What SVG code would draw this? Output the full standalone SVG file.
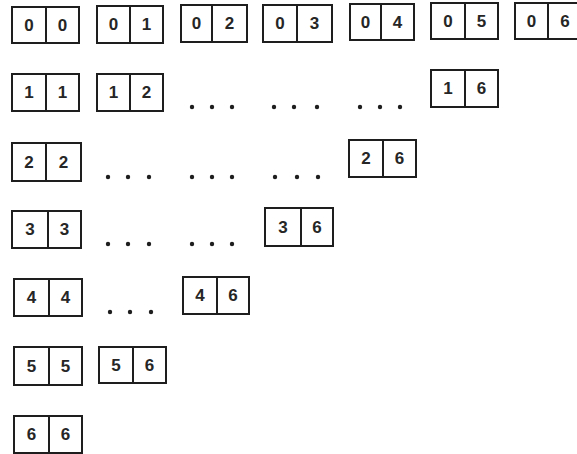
<svg xmlns="http://www.w3.org/2000/svg" width="577" height="454" viewBox="0 0 577 454">
<style>
.b{fill:none;stroke:#1e1e1e;stroke-width:2}
.t{font-family:"Liberation Sans",Arial,sans-serif;font-size:17px;font-weight:bold;fill:#262626;text-anchor:middle}
.d{fill:#1e1e1e}
</style>
<rect width="577" height="454" fill="#fff"/>
<g id="n00"><rect class="b" x="12" y="7" width="67" height="36"/><line class="b" x1="46" y1="7" x2="46" y2="43"/><text class="t" x="29" y="31">0</text><text class="t" x="62.5" y="31">0</text></g>
<g id="n01"><rect class="b" x="97" y="6" width="66" height="37"/><line class="b" x1="130" y1="6" x2="130" y2="43"/><text class="t" x="113.5" y="30">0</text><text class="t" x="146.5" y="30">1</text></g>
<g id="n02"><rect class="b" x="181" y="5" width="66" height="37"/><line class="b" x1="212" y1="5" x2="212" y2="42"/><text class="t" x="196.5" y="29">0</text><text class="t" x="229.5" y="29">2</text></g>
<g id="n03"><rect class="b" x="263" y="5" width="69" height="37"/><line class="b" x1="297" y1="5" x2="297" y2="42"/><text class="t" x="280" y="29">0</text><text class="t" x="314.5" y="29">3</text></g>
<g id="n04"><rect class="b" x="350" y="4" width="64" height="36"/><line class="b" x1="381" y1="4" x2="381" y2="40"/><text class="t" x="365.5" y="28">0</text><text class="t" x="397.5" y="28">4</text></g>
<g id="n05"><rect class="b" x="431" y="3" width="67" height="36"/><line class="b" x1="465" y1="3" x2="465" y2="39"/><text class="t" x="448" y="27">0</text><text class="t" x="481.5" y="27">5</text></g>
<g id="n06"><rect class="b" x="515" y="3" width="67" height="36"/><line class="b" x1="548" y1="3" x2="548" y2="39"/><text class="t" x="531.5" y="27">0</text><text class="t" x="565" y="27">6</text></g>
<g id="n11"><rect class="b" x="12" y="74" width="67" height="37"/><line class="b" x1="46" y1="74" x2="46" y2="111"/><text class="t" x="29" y="98">1</text><text class="t" x="62.5" y="98">1</text></g>
<g id="n12"><rect class="b" x="97" y="74" width="66" height="37"/><line class="b" x1="130" y1="74" x2="130" y2="111"/><text class="t" x="113.5" y="98">1</text><text class="t" x="146.5" y="98">2</text></g>
<g id="n16"><rect class="b" x="431" y="70" width="67" height="37"/><line class="b" x1="465" y1="70" x2="465" y2="107"/><text class="t" x="448" y="94">1</text><text class="t" x="481.5" y="94">6</text></g>
<g id="n22"><rect class="b" x="12" y="143" width="69" height="38"/><line class="b" x1="46" y1="143" x2="46" y2="181"/><text class="t" x="29" y="168">2</text><text class="t" x="63.5" y="168">2</text></g>
<g id="n26"><rect class="b" x="349" y="140" width="67" height="37"/><line class="b" x1="383" y1="140" x2="383" y2="177"/><text class="t" x="366" y="164">2</text><text class="t" x="399.5" y="164">6</text></g>
<g id="n33"><rect class="b" x="12" y="211" width="69" height="37"/><line class="b" x1="48" y1="211" x2="48" y2="248"/><text class="t" x="30" y="235">3</text><text class="t" x="64.5" y="235">3</text></g>
<g id="n36"><rect class="b" x="265" y="208" width="68" height="38"/><line class="b" x1="301" y1="208" x2="301" y2="246"/><text class="t" x="283" y="233">3</text><text class="t" x="317" y="233">6</text></g>
<g id="n44"><rect class="b" x="14" y="279" width="68" height="37"/><line class="b" x1="49" y1="279" x2="49" y2="316"/><text class="t" x="31.5" y="303">4</text><text class="t" x="65.5" y="303">4</text></g>
<g id="n46"><rect class="b" x="183" y="277" width="66" height="37"/><line class="b" x1="217" y1="277" x2="217" y2="314"/><text class="t" x="200" y="301">4</text><text class="t" x="233" y="301">6</text></g>
<g id="n55"><rect class="b" x="14" y="347" width="68" height="38"/><line class="b" x1="49" y1="347" x2="49" y2="385"/><text class="t" x="31.5" y="372">5</text><text class="t" x="65.5" y="372">5</text></g>
<g id="n56"><rect class="b" x="99" y="347" width="67" height="36"/><line class="b" x1="133" y1="347" x2="133" y2="383"/><text class="t" x="116" y="371">5</text><text class="t" x="149.5" y="371">6</text></g>
<g id="n66"><rect class="b" x="14" y="416" width="68" height="37"/><line class="b" x1="49" y1="416" x2="49" y2="453"/><text class="t" x="31.5" y="440">6</text><text class="t" x="65.5" y="440">6</text></g>
<g id="connectors"></g>
<g id="dots" class="d">
<circle cx="192" cy="107" r="2.2"/><circle cx="212" cy="107" r="2.2"/><circle cx="232" cy="107" r="2.2"/>
<circle cx="274" cy="107" r="2.2"/><circle cx="294" cy="107" r="2.2"/><circle cx="317" cy="107" r="2.2"/>
<circle cx="360" cy="107" r="2.2"/><circle cx="380" cy="107" r="2.2"/><circle cx="400" cy="107" r="2.2"/>
<circle cx="108" cy="177" r="2.2"/><circle cx="128" cy="177" r="2.2"/><circle cx="149" cy="177" r="2.2"/>
<circle cx="192" cy="177" r="2.2"/><circle cx="212" cy="177" r="2.2"/><circle cx="232" cy="177" r="2.2"/>
<circle cx="275" cy="177" r="2.2"/><circle cx="297" cy="177" r="2.2"/><circle cx="318" cy="177" r="2.2"/>
<circle cx="108" cy="244" r="2.2"/><circle cx="128" cy="244" r="2.2"/><circle cx="149" cy="244" r="2.2"/>
<circle cx="192" cy="244" r="2.2"/><circle cx="212" cy="244" r="2.2"/><circle cx="232" cy="244" r="2.2"/>
<circle cx="110" cy="312" r="2.2"/><circle cx="130" cy="312" r="2.2"/><circle cx="151" cy="312" r="2.2"/>
</g>
</svg>
